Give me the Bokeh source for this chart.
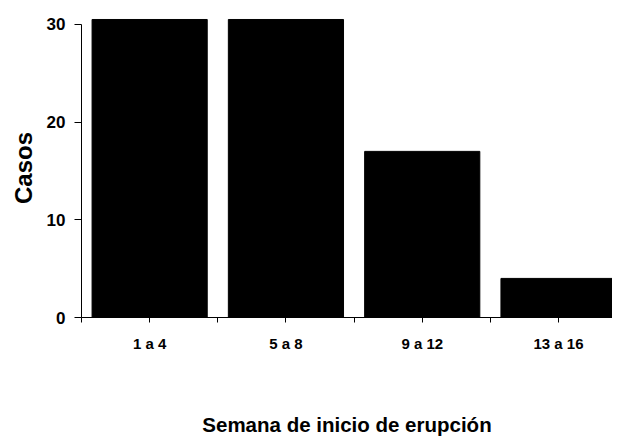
from bokeh.plotting import figure
from bokeh.models import FixedTicker, Range1d
from bokeh.embed import file_html
from bokeh.resources import INLINE

categories = ["1 a 4", "5 a 8", "9 a 12", "13 a 16"]
casos = [30.5, 30.5, 17, 4]
y_ticks = [0, 10, 20, 30]

x_pos = [i + 0.5 for i in range(len(categories))]

p = figure(width=612, height=438, output_backend="svg", toolbar_location=None,
           x_range=Range1d(0, 3.896), y_range=Range1d(0, 30.6),
           min_border_left=81, min_border_right=0, min_border_top=18, min_border_bottom=120)
p.outline_line_color = None
p.xgrid.grid_line_color = None
p.ygrid.grid_line_color = None
p.background_fill_color = "white"
p.border_fill_color = "white"

p.vbar(x=x_pos, top=casos, width=0.845, bottom=0, fill_color="black", line_color="black")

font = "Liberation Sans"
# X axis
p.xaxis.ticker = FixedTicker(ticks=x_pos, minor_ticks=list(range(len(categories) + 1)))
p.xaxis.major_label_overrides = {x: c for x, c in zip(x_pos, categories)}
p.xaxis.major_tick_in = 0
p.xaxis.major_tick_out = 5
p.xaxis.minor_tick_in = 0
p.xaxis.minor_tick_out = 5
p.xaxis.major_label_standoff = 12
p.xaxis.major_label_text_font = font
p.xaxis.major_label_text_font_style = "bold"
p.xaxis.major_label_text_font_size = "15px"
p.xaxis.major_label_text_color = "black"
p.xaxis.axis_label = "Semana de inicio de erupción"
p.xaxis.axis_label_text_font = font
p.xaxis.axis_label_text_font_style = "bold"
p.xaxis.axis_label_text_font_size = "20.5px"
p.xaxis.axis_label_text_color = "black"
p.xaxis.axis_label_standoff = 58
p.xaxis.axis_line_color = "black"
p.xaxis.major_tick_line_color = "black"
p.xaxis.minor_tick_line_color = "black"

# Y axis
p.yaxis.ticker = FixedTicker(ticks=y_ticks, minor_ticks=[])
p.yaxis.bounds = (0, 30)
p.yaxis.major_tick_in = 0
p.yaxis.major_tick_out = 7
p.yaxis.minor_tick_out = 0
p.yaxis.minor_tick_in = 0
p.yaxis.major_label_standoff = 9
p.yaxis.major_label_text_font = font
p.yaxis.major_label_text_font_style = "bold"
p.yaxis.major_label_text_font_size = "17px"
p.yaxis.major_label_text_color = "black"
p.yaxis.axis_label = "Casos"
p.yaxis.axis_label_text_font = font
p.yaxis.axis_label_text_font_style = "bold"
p.yaxis.axis_label_text_font_size = "24px"
p.yaxis.axis_label_text_color = "black"
p.yaxis.axis_label_standoff = 7
p.yaxis.axis_line_color = "black"
p.yaxis.major_tick_line_color = "black"

open("out.html", "w").write(file_html(p, INLINE))
